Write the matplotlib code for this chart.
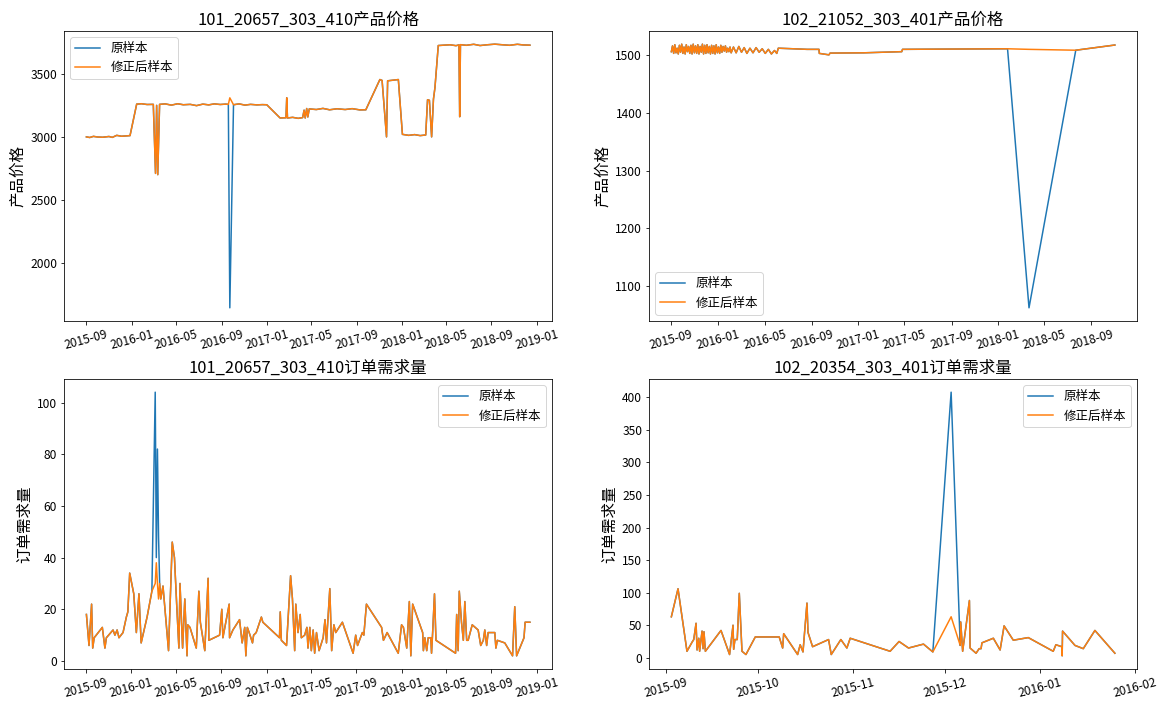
import pandas as pd
import matplotlib.pyplot as plt

plt.rcParams['font.family'] = ['Noto Sans CJK SC', 'DejaVu Sans']
plt.rcParams['axes.unicode_minus'] = False

# ---------------- 101_20657_303_410 产品价格 ----------------
fecha1 = ["2015-09-01", "2015-09-10", "2015-09-20", "2015-10-01", "2015-10-15", "2015-11-01", "2015-11-10",
          "2015-11-22", "2015-12-05", "2015-12-28", "2016-01-15", "2016-01-28", "2016-02-12", "2016-02-29",
          "2016-03-06", "2016-03-09", "2016-03-12", "2016-03-17", "2016-04-01", "2016-04-18", "2016-05-05",
          "2016-05-20", "2016-06-08", "2016-06-25", "2016-07-12", "2016-07-28", "2016-08-12", "2016-08-28",
          "2016-09-12", "2016-09-19", "2016-09-23", "2016-10-03", "2016-10-18", "2016-11-03", "2016-11-18",
          "2016-12-05", "2016-12-20", "2017-01-01", "2017-02-06", "2017-02-22", "2017-02-24", "2017-02-26",
          "2017-03-12", "2017-03-27", "2017-04-08", "2017-04-12", "2017-04-15", "2017-04-19", "2017-04-22",
          "2017-04-26", "2017-05-15", "2017-06-02", "2017-06-20", "2017-07-10", "2017-08-01", "2017-08-20",
          "2017-09-10", "2017-09-26", "2017-11-03", "2017-11-09", "2017-11-21", "2017-11-24", "2017-12-23",
          "2018-01-03", "2018-01-20", "2018-02-05", "2018-02-20", "2018-03-07", "2018-03-12", "2018-03-17",
          "2018-03-23", "2018-03-28", "2018-04-01", "2018-04-10", "2018-04-25", "2018-05-12", "2018-05-28",
          "2018-06-05", "2018-06-07", "2018-06-09", "2018-06-25", "2018-07-15", "2018-08-01", "2018-08-20",
          "2018-09-10", "2018-10-01", "2018-10-20", "2018-11-10", "2018-11-25", "2018-12-14"]
precio1 = [3000, 2995, 3004, 2999, 2997, 3003, 2996,
           3012, 3005, 3010, 3260, 3263, 3257, 3258,
           2710, 3250, 2700, 3258, 3262, 3252, 3263,
           3255, 3258, 3248, 3260, 3254, 3262, 3257,
           3260, 3258, 3310, 3255, 3262, 3252, 3258,
           3254, 3256, 3255, 3150, 3152, 3310, 3150,
           3155, 3147, 3153, 3212, 3150, 3225, 3158,
           3222, 3217, 3226, 3215, 3223, 3217, 3224,
           3214, 3215, 3455, 3448, 3000, 3445, 3455,
           3020, 3012, 3018, 3010, 3015, 3295, 3290,
           3000, 3300, 3390, 3725, 3728, 3731, 3724,
           3730, 3160, 3732, 3727, 3735, 3725, 3731,
           3736, 3731, 3727, 3735, 3730, 3728]
# valores de la muestra original que difieren de la corregida
outlier_fecha1 = ["2016-09-23"]
outlier_valor1 = [1643]

# ---------------- 102_21052_303_401 产品价格 ----------------
fecha2 = ["2015-09-01", "2015-09-04", "2015-09-07", "2015-09-10", "2015-09-13", "2015-09-16", "2015-09-19",
          "2015-09-22", "2015-09-25", "2015-09-28", "2015-10-01", "2015-10-04", "2015-10-07", "2015-10-10",
          "2015-10-13", "2015-10-16", "2015-10-19", "2015-10-22", "2015-10-25", "2015-10-28", "2015-10-31",
          "2015-11-03", "2015-11-06", "2015-11-09", "2015-11-12", "2015-11-15", "2015-11-18", "2015-11-21",
          "2015-11-24", "2015-11-27", "2015-11-30", "2015-12-03", "2015-12-06", "2015-12-09", "2015-12-12",
          "2015-12-15", "2015-12-18", "2015-12-21", "2015-12-24", "2015-12-27", "2015-12-30", "2016-01-02",
          "2016-01-05", "2016-01-08", "2016-01-11", "2016-01-14", "2016-01-17", "2016-01-20", "2016-01-23",
          "2016-01-26", "2016-01-29", "2016-02-01", "2016-02-04",
          "2016-02-10", "2016-02-17", "2016-02-24", "2016-03-02", "2016-03-09", "2016-03-16", "2016-03-24",
          "2016-04-01", "2016-04-09", "2016-04-17", "2016-04-25", "2016-05-03", "2016-05-11", "2016-05-19",
          "2016-05-27", "2016-06-02", "2016-06-06", "2016-07-15", "2016-08-20", "2016-09-20", "2016-09-21",
          "2016-10-16", "2016-10-19", "2017-01-15", "2017-04-24", "2017-04-26", "2017-09-01", "2018-01-25",
          "2018-03-22", "2018-07-22", "2018-11-01"]
precio2 = [1506, 1516, 1503, 1518, 1504, 1512, 1502,
           1517, 1505, 1519, 1503, 1514, 1502, 1518,
           1506, 1515, 1503, 1517, 1502, 1519, 1504,
           1516, 1503, 1518, 1502, 1515, 1505, 1519,
           1502, 1517, 1503, 1518, 1504, 1515, 1502,
           1517, 1503, 1516, 1502, 1518, 1504, 1514,
           1503, 1517, 1505, 1515, 1507, 1516, 1505,
           1512, 1506, 1514, 1504,
           1514, 1504, 1515, 1505, 1513, 1503, 1512,
           1504, 1513, 1505, 1511, 1503, 1510, 1502,
           1508, 1503, 1512, 1511, 1510, 1510, 1503,
           1500.5, 1503.5, 1504, 1506, 1510, 1510.5, 1511,
           1510, 1508.5, 1517.5]
outlier_fecha2 = ["2018-03-22"]
outlier_valor2 = [1062]

# ---------------- 101_20657_303_410 订单需求量 ----------------
fecha3 = ["2015-09-02", "2015-09-09", "2015-09-16", "2015-09-19", "2015-09-23", "2015-10-15", "2015-10-22",
          "2015-10-26", "2015-11-13", "2015-11-18", "2015-11-24", "2015-11-29", "2015-12-10", "2015-12-19",
          "2015-12-23", "2015-12-28", "2016-01-08", "2016-01-15", "2016-01-22", "2016-01-28", "2016-02-13",
          "2016-02-26", "2016-03-06", "2016-03-09", "2016-03-12", "2016-03-15", "2016-03-18", "2016-03-21",
          "2016-03-27", "2016-04-11", "2016-04-21", "2016-04-27", "2016-05-03", "2016-05-09", "2016-05-12",
          "2016-05-19", "2016-05-25", "2016-05-31", "2016-06-02", "2016-06-08", "2016-06-25", "2016-07-02",
          "2016-07-06", "2016-07-18", "2016-07-27", "2016-07-29", "2016-08-27", "2016-09-02", "2016-09-05",
          "2016-09-22", "2016-09-23", "2016-10-02", "2016-10-20", "2016-10-27", "2016-11-03", "2016-11-06",
          "2016-11-10", "2016-11-15", "2016-11-24", "2016-11-27", "2016-12-04", "2016-12-18", "2016-12-22",
          "2017-02-05", "2017-02-07", "2017-02-10", "2017-02-24", "2017-03-07", "2017-03-12", "2017-03-18",
          "2017-03-21", "2017-03-27", "2017-04-02", "2017-04-05", "2017-04-14", "2017-04-20", "2017-04-23",
          "2017-04-28", "2017-05-02", "2017-05-07", "2017-05-11", "2017-05-16", "2017-05-23", "2017-06-03",
          "2017-06-08", "2017-06-12", "2017-06-21", "2017-06-26", "2017-07-02", "2017-07-07", "2017-07-25",
          "2017-08-23", "2017-08-30", "2017-09-04", "2017-09-17", "2017-09-21", "2017-09-28", "2017-11-08",
          "2017-11-13", "2017-11-23", "2017-12-23", "2018-01-01", "2018-01-06", "2018-01-15", "2018-01-22",
          "2018-01-26", "2018-01-31", "2018-02-27", "2018-03-01", "2018-03-05", "2018-03-10", "2018-03-14",
          "2018-03-21", "2018-03-23", "2018-03-26", "2018-03-31", "2018-04-04", "2018-05-27", "2018-05-30",
          "2018-06-03", "2018-06-06", "2018-06-12", "2018-06-17", "2018-06-21", "2018-06-26", "2018-06-30",
          "2018-07-11", "2018-07-27", "2018-08-03", "2018-08-10", "2018-08-14", "2018-08-19", "2018-08-23",
          "2018-09-10", "2018-09-13", "2018-09-17", "2018-10-07", "2018-10-28", "2018-11-03", "2018-11-08",
          "2018-11-28", "2018-12-01", "2018-12-14"]
demanda3 = [18, 6, 22, 5, 9, 13, 5,
            9, 12, 10, 12, 9, 11, 17,
            19, 34, 26, 11, 26, 7, 17,
            27, 30, 38, 30, 24, 30, 24,
            29, 4, 46, 40, 22, 5, 30,
            5, 24, 2, 14, 13, 5, 27,
            15, 4, 32, 8, 10, 20, 9,
            22, 9, 12, 16, 7, 13, 2,
            13, 11, 7, 10, 11, 17, 15,
            9, 19, 8, 6, 33, 24, 4,
            22, 11, 18, 9, 10, 13, 5,
            13, 4, 12, 3, 11, 4, 9,
            16, 7, 28, 4, 14, 11, 15,
            3, 10, 6, 11, 10, 22, 13,
            8, 11, 3, 14, 13, 5, 23,
            2, 22, 11, 4, 9, 4, 9,
            9, 3, 11, 26, 8, 3, 18,
            4, 27, 15, 8, 23, 8, 8,
            14, 12, 6, 8, 12, 6, 11,
            11, 5, 8, 7, 2, 21, 2,
            9, 15, 15]
outlier_fecha3 = ["2016-03-06", "2016-03-09", "2016-03-12", "2016-03-15"]
outlier_valor3 = [104, 40, 82, 48]

# ---------------- 102_20354_303_401 订单需求量 ----------------
fecha4 = ["2015-09-02 20:00", "2015-09-05 00:00", "2015-09-07 22:00", "2015-09-09 14:00", "2015-09-10 03:00",
          "2015-09-10 21:00", "2015-09-11 05:00", "2015-09-11 18:00", "2015-09-12 01:00", "2015-09-12 20:00",
          "2015-09-13 04:00", "2015-09-13 11:00", "2015-09-13 22:00", "2015-09-19 00:00", "2015-09-21 19:00",
          "2015-09-22 22:00", "2015-09-23 03:00", "2015-09-23 13:00", "2015-09-24 07:00", "2015-09-24 23:00",
          "2015-09-25 20:00", "2015-09-27 03:00", "2015-09-30 04:00", "2015-10-07 23:00", "2015-10-09 02:00",
          "2015-10-09 10:00", "2015-10-13 23:00", "2015-10-14 19:00", "2015-10-15 17:00", "2015-10-17 00:00",
          "2015-10-17 08:00", "2015-10-18 20:00", "2015-10-24 01:00", "2015-10-24 22:00", "2015-10-28 01:00",
          "2015-10-30 00:00", "2015-10-31 02:00", "2015-11-13 02:00", "2015-11-16 00:00", "2015-11-19 02:00",
          "2015-11-23 23:00", "2015-11-27 00:00", "2015-12-02 23:00", "2015-12-05 22:00", "2015-12-06 02:00",
          "2015-12-06 17:00", "2015-12-08 22:00", "2015-12-09 03:00", "2015-12-11 02:00", "2015-12-12 02:00",
          "2015-12-12 17:00", "2015-12-13 00:00", "2015-12-16 17:00", "2015-12-18 22:00", "2015-12-20 05:00",
          "2015-12-23 05:00", "2015-12-28 02:00", "2016-01-05 05:00", "2016-01-06 02:00", "2016-01-08 00:00",
          "2016-01-08 03:00", "2016-01-08 06:00", "2016-01-12 07:00", "2016-01-15 00:00", "2016-01-18 19:00",
          "2016-01-25 07:00"]
demanda4 = [63, 106, 10, 24, 28,
            53, 12, 30, 10, 41,
            14, 40, 10, 42, 5,
            50, 13, 28, 28, 99,
            10, 5, 32, 32, 15,
            37, 5, 20, 9, 84,
            39, 17, 28, 5, 28,
            15, 30, 10, 25, 15,
            21, 9, 63, 19, 55,
            10, 88, 15, 7, 14,
            14, 23, 30, 12, 49,
            27, 31, 10, 20, 17,
            3, 41, 19, 14, 42,
            7]
outlier_fecha4 = ["2015-12-02 23:00"]
outlier_valor4 = [408]


def series(fechas, valores, out_fechas, out_valores):
    corregido = pd.Series(valores, index=pd.to_datetime(fechas), dtype=float)
    original = corregido.copy()
    original.loc[pd.to_datetime(out_fechas)] = out_valores
    return original, corregido


graficos = [
    ("101_20657_303_410产品价格", "产品价格", fecha1, precio1, outlier_fecha1, outlier_valor1, "upper left"),
    ("102_21052_303_401产品价格", "产品价格", fecha2, precio2, outlier_fecha2, outlier_valor2, "lower left"),
    ("101_20657_303_410订单需求量", "订单需求量", fecha3, demanda3, outlier_fecha3, outlier_valor3, "upper right"),
    ("102_20354_303_401订单需求量", "订单需求量", fecha4, demanda4, outlier_fecha4, outlier_valor4, "upper right"),
]

fig, axes = plt.subplots(2, 2, figsize=(1168 / 72, 704 / 72), dpi=72)
fig.subplots_adjust(left=0.055, right=0.9735, bottom=0.0497, top=0.956, wspace=0.199, hspace=0.2)

for ax, (titulo, ylab, fechas, valores, out_f, out_v, pos) in zip(axes.flat, graficos):
    original, corregido = series(fechas, valores, out_f, out_v)
    ax.plot(original.index, original.values, label="原样本")
    ax.plot(corregido.index, corregido.values, label="修正后样本")
    ax.set_title(titulo, fontsize=16.5)
    ax.set_ylabel(ylab, fontsize=15.5)
    ax.tick_params(axis="both", labelsize=12)
    ax.tick_params(axis="x", labelrotation=15)
    ax.legend(loc=pos, fontsize=12.5)

fig.savefig("out.png", dpi=72)
